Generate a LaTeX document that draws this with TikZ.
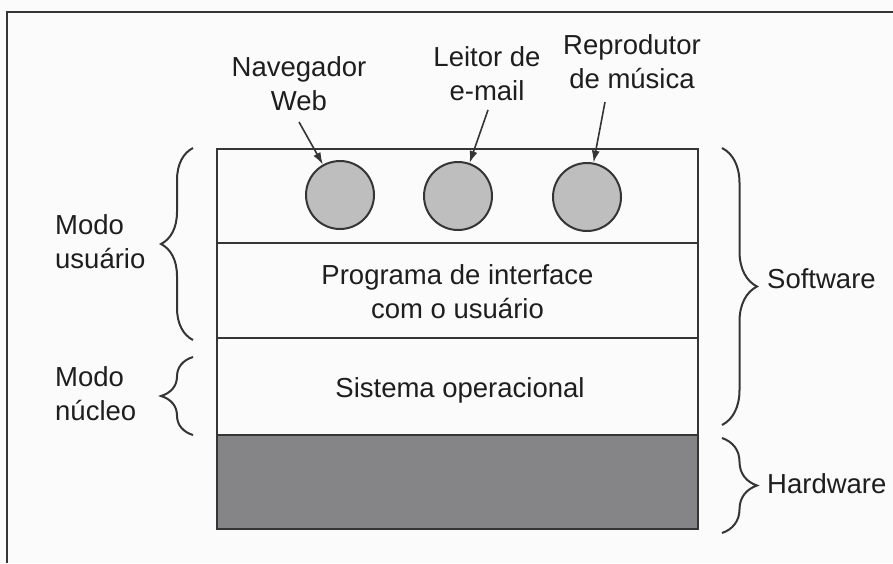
\documentclass[tikz,border=0pt]{standalone}
\usepackage{fontspec}
\setmainfont{Liberation Sans}
\usetikzlibrary{arrows.meta,decorations.pathreplacing}
\definecolor{ink}{HTML}{353535}
\definecolor{txt}{HTML}{1E1E1E}
\definecolor{hwgray}{HTML}{858587}
\definecolor{appgray}{HTML}{BEBEBE}
\definecolor{paper}{HTML}{FBFBFB}
\tikzset{
  layer/.style={draw=ink, line width=2pt},
  app/.style={circle, draw=ink, line width=2pt, fill=appgray, minimum size=68pt, inner sep=0pt},
  lbl/.style={text=txt, font=\fontsize{27.5}{34}\selectfont, inner sep=0pt, align=center},
  ptr/.style={draw=ink, line width=1.6pt, -{Latex[length=12pt,width=8pt]}},
  bracel/.style={draw=ink, line width=2pt, decorate, decoration={brace, amplitude=32pt}},
  bracer/.style={draw=ink, line width=2pt, decorate, decoration={brace, amplitude=35pt}},
}
\begin{document}
\begin{tikzpicture}[x=1pt, y=-1pt]
\useasboundingbox[fill=paper] (0,0) rectangle (893,563);
% frame
\draw[ink, line width=1.5pt] (893,12) -- (7,12) -- (7,563);
% layers
\draw[layer] (217,149) rectangle (698,243);
\draw[layer] (217,243) rectangle (698,338);
\draw[layer] (217,338) rectangle (698,435);
\draw[layer, fill=hwgray] (217,435) rectangle (698,529);
% apps
\node[app] (c1) at (340,195) {};
\node[app] (c2) at (458,196) {};
\node[app] (c3) at (587,197) {};
% labels (base anchor = last line's baseline)
\node[lbl, anchor=base] (nav) at (299,110) {Navegador\\Web};
\node[lbl, anchor=base] (mail) at (487,100) {Leitor de\\e-mail};
\node[lbl, anchor=base] (music) at (632,88) {Reprodutor\\de música};
\coordinate (s1) at (299,122);
\coordinate (s2) at (488,110);
\coordinate (s3) at (605,102);
\draw[ptr] (s1) -- (c1);
\draw[ptr] (s2) -- (c2);
\draw[ptr] (s3) -- (c3);
% layer texts
\node[lbl, anchor=base] (ui) at (457.5,318) {Programa de interface\\com o usuário};
\node[lbl, anchor=base] (os) at (460,397) {Sistema operacional};
% braces left
\coordinate (lu1) at (193,340);
\coordinate (lu2) at (193,148);
\coordinate (ln1) at (193,435);
\coordinate (ln2) at (193,357);
\draw[bracel] (lu1) -- (lu2);
\draw[bracel] (ln1) -- (ln2);
\node[lbl, align=left, anchor=base west] (mu) at (55,268) {Modo\\usuário};
\node[lbl, align=left, anchor=base west] (mn) at (55,420) {Modo\\núcleo};
% braces right
\coordinate (rs1) at (722,148);
\coordinate (rs2) at (722,425);
\coordinate (rh1) at (722,438);
\coordinate (rh2) at (722,533);
\draw[bracer] (rs1) -- (rs2);
\draw[bracer] (rh1) -- (rh2);
\node[lbl, anchor=base west] (sw) at (767,288) {Software};
\node[lbl, anchor=base west] (hw) at (767,493) {Hardware};
\end{tikzpicture}
\end{document}
